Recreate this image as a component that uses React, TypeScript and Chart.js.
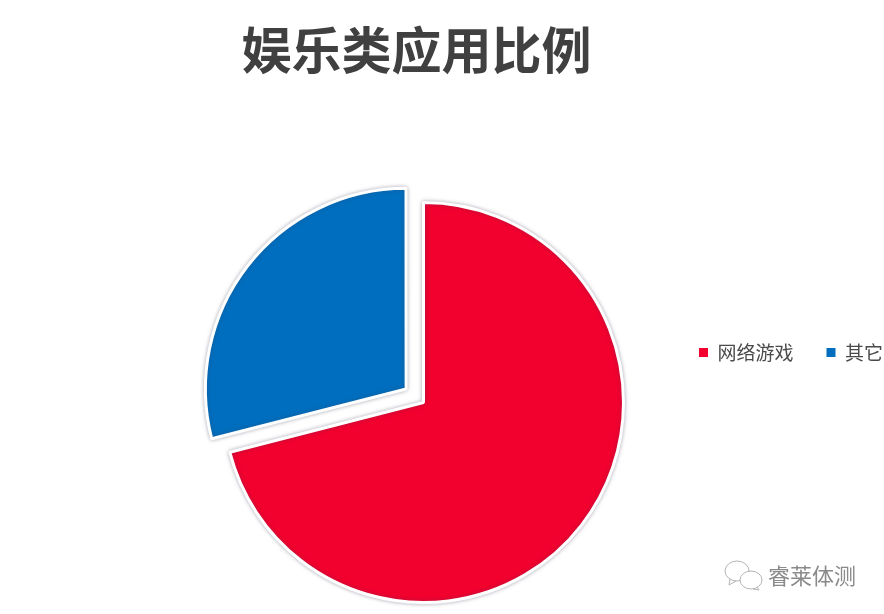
import React, { useEffect, useRef } from "react";
import { Chart, registerables } from "chart.js";

Chart.register(...registerables);

const titleText = "娱乐类应用比例";
const categories = ["网络游戏", "其它"];
const seriesValues = [71, 29];
const sliceColors = ["#F2002E", "#006EBE"];
const sliceOffsets = [0, 88];
const watermarkText = "睿莱体测";
const cjk = '"Noto Sans CJK SC", sans-serif';

const placeBlocks = {
  id: "placeBlocks",
  afterLayout(chart: any) {
    const t = chart.titleBlock;
    t.left -= 7;
    t.right -= 7;
    t.top = 20;
    t.bottom = 80;
    const l = chart.legend;
    const h = l.bottom - l.top;
    l.top = 341 - h / 2;
    l.bottom = l.top + h;
    l.left += 69;
    l.right += 69;
  },
  beforeDatasetDraw(chart: any) {
    const c = chart.ctx;
    c.save();
    c.shadowColor = "rgba(60,60,90,0.35)";
    c.shadowBlur = 4;
    c.shadowOffsetX = 0;
    c.shadowOffsetY = 0;
  },
  afterDatasetDraw(chart: any) {
    chart.ctx.restore();
  },
  afterDraw(chart: any) {
    const c = chart.ctx;
    c.save();
    c.fillStyle = "#8a8a8a";
    c.font = `22px ${cjk}`;
    c.textBaseline = "middle";
    c.textAlign = "left";
    c.fillText(watermarkText, 768, 576);
    c.strokeStyle = "#b4b4b4";
    c.lineWidth = 1;
    c.beginPath();
    c.ellipse(737, 571, 12, 10, 0, 0, Math.PI * 2);
    c.moveTo(730, 579);
    c.lineTo(729, 585);
    c.lineTo(736, 581);
    c.stroke();
    c.fillStyle = "#ffffff";
    c.beginPath();
    c.ellipse(751, 580, 11, 9, 0, 0, Math.PI * 2);
    c.fill();
    c.moveTo(757, 587);
    c.lineTo(759, 590);
    c.lineTo(753, 589);
    c.stroke();
    c.restore();
  },
};

export default function App() {
  const ref = useRef<HTMLCanvasElement>(null);
  useEffect(() => {
    document.body.style.margin = "0";
    const chart = new Chart(ref.current!, {
      type: "pie",
      plugins: [placeBlocks],
      data: {
        labels: categories,
        datasets: [
          {
            data: seriesValues,
            backgroundColor: sliceColors,
            borderColor: "#ffffff",
            borderWidth: 3,
            offset: sliceOffsets,
          },
        ],
      },
      options: {
        animation: false,
        responsive: false,
        devicePixelRatio: 1,
        radius: 200,
        layout: { padding: { left: 0, right: 37, top: 69, bottom: 0 } },
        plugins: {
          tooltip: { enabled: false },
          title: {
            display: true,
            text: titleText,
            color: "#404040",
            font: { family: cjk, size: 50, weight: "bold" },
            padding: 0,
          },
          legend: {
            position: "top",
            align: "end",
            labels: {
              color: "#4a4a4a",
              font: { family: cjk, size: 19, weight: "normal" },
              boxWidth: 9,
              boxHeight: 9,
              padding: 33,
              generateLabels: (c: any) =>
                categories.map((name, i) => ({
                  text: name,
                  fillStyle: sliceColors[i],
                  strokeStyle: sliceColors[i],
                  lineWidth: 0,
                  index: i,
                  fontColor: "#4a4a4a",
                })),
            },
          },
        },
      } as any,
    });
    return () => chart.destroy();
  }, []);
  return <canvas ref={ref} width={884} height={614} style={{ display: "block" }} />;
}
